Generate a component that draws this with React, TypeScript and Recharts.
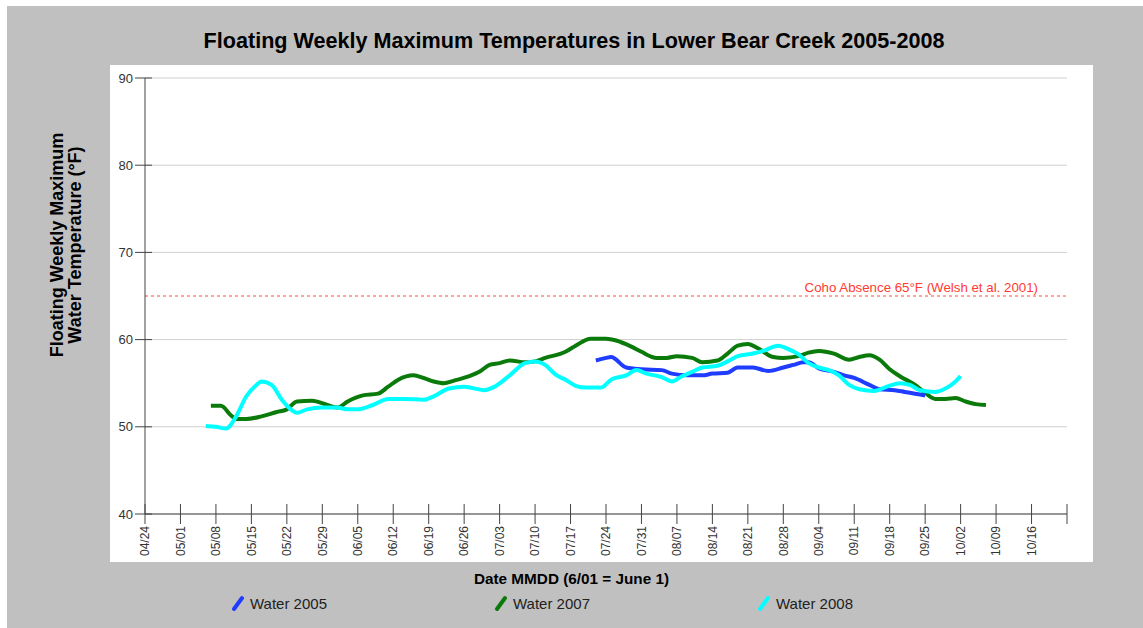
import React from "react";
import {
  CartesianGrid,
  Line,
  LineChart,
  ReferenceLine,
  XAxis,
  YAxis,
} from "recharts";

// x = days after 04/24
const tickLabels = [
  "04/24", "05/01", "05/08", "05/15", "05/22", "05/29", "06/05", "06/12",
  "06/19", "06/26", "07/03", "07/10", "07/17", "07/24", "07/31", "08/07",
  "08/14", "08/21", "08/28", "09/04", "09/11", "09/18", "09/25", "10/02",
  "10/09", "10/16", "",
];
const tickDays = tickLabels.map((_, i) => i * 7);
const yTicks = [40, 50, 60, 70, 80, 90];

const days2005 = [
  89, 91, 92, 95, 98, 102, 104, 107, 110, 112, 115, 117, 120, 123, 126, 128,
  130, 131, 133, 136, 138, 140, 143, 145, 148, 150, 152, 154,
];
const temps2005 = [
  57.6, 57.9, 58.0, 56.8, 56.6, 56.5, 56.1, 55.9, 55.9, 56.1, 56.2, 56.8, 56.8,
  56.4, 56.8, 57.1, 57.4, 57.4, 56.7, 56.3, 55.9, 55.6, 54.8, 54.3, 54.2, 54.0,
  53.8, 53.6,
];

const days2007 = [
  13, 15, 17, 18, 20, 23, 26, 28, 30, 33, 36, 38, 40, 43, 46, 48, 50, 53, 55,
  57, 59, 61, 64, 66, 68, 70, 72, 75, 77, 79, 83, 85, 88, 91, 93, 96, 98, 101,
  103, 105, 108, 110, 113, 115, 117, 119, 121, 124, 126, 129, 131, 133, 136,
  139, 141, 143, 145, 147, 149, 152, 154, 156, 158, 160, 162, 164, 166,
];
const temps2007 = [
  52.4, 52.4, 51.3, 50.9, 50.9, 51.2, 51.7, 52.0, 52.9, 53.0, 52.5, 52.2, 52.9,
  53.6, 53.8, 54.6, 55.4, 55.9, 55.6, 55.2, 55.0, 55.3, 55.8, 56.3, 57.1, 57.3,
  57.6, 57.4, 57.5, 57.9, 58.6, 59.3, 60.1, 60.1, 59.9, 59.2, 58.6, 57.9, 57.9,
  58.1, 57.9, 57.4, 57.6, 58.4, 59.3, 59.5, 59.0, 58.0, 57.9, 58.1, 58.5, 58.7,
  58.4, 57.7, 58.0, 58.2, 57.7, 56.6, 55.8, 54.8, 53.9, 53.2, 53.2, 53.3, 52.9,
  52.6, 52.5,
];

const days2008 = [
  12, 14, 16, 18, 20, 22, 23, 25, 27, 29, 30, 32, 35, 38, 40, 42, 45, 48, 51,
  55, 57, 60, 63, 67, 69, 72, 75, 77, 79, 81, 83, 85, 87, 90, 92, 95, 97, 99,
  102, 104, 106, 108, 110, 113, 115, 117, 120, 122, 125, 127, 129, 131, 133,
  135, 137, 139, 141, 144, 146, 149, 151, 153, 156, 158, 160, 161,
];
const temps2008 = [
  50.1, 50.0, 49.8, 51.2, 53.5, 54.8, 55.2, 54.8, 53.1, 51.9, 51.6, 52.0, 52.2,
  52.2, 52.0, 52.0, 52.5, 53.2, 53.2, 53.1, 53.5, 54.4, 54.6, 54.2, 54.6, 55.9,
  57.3, 57.5, 57.1, 56.0, 55.4, 54.7, 54.5, 54.5, 55.4, 55.9, 56.5, 56.1, 55.7,
  55.2, 55.8, 56.3, 56.8, 57.0, 57.5, 58.1, 58.4, 58.7, 59.3, 58.9, 58.3, 57.3,
  56.8, 56.5, 55.9, 54.8, 54.3, 54.1, 54.5, 55.0, 54.8, 54.2, 54.0, 54.4, 55.2,
  55.8,
];

const toPoints = (days: number[], temps: number[]) =>
  days.map((day, i) => ({ day, temp: temps[i] }));

const FONT = '"Liberation Sans", Arial, sans-serif';
const AXIS = "#444";

const XTick = (props: any) => {
  const { x, y, payload } = props;
  const label = tickLabels[tickDays.indexOf(payload.value)] ?? "";
  return (
    <g>
      <line x1={x} x2={x} y1={y - 10} y2={y + 10} stroke={AXIS} />
      <text
        transform={`translate(${x},${y + 12}) rotate(-90)`}
        textAnchor="end"
        dy="0.35em"
        fontSize={12}
        fontFamily={FONT}
        fill="#333"
      >
        {label}
      </text>
    </g>
  );
};

const YTick = (props: any) => {
  const { x, y, payload } = props;
  return (
    <g>
      <line x1={x - 10} x2={x + 7} y1={y} y2={y} stroke={AXIS} />
      <text
        x={x - 12}
        y={y}
        dy="0.35em"
        textAnchor="end"
        fontSize={13}
        fontFamily={FONT}
        fill="#333"
      >
        {payload.value}
      </text>
    </g>
  );
};

const CohoLabel = (props: any) => {
  const { viewBox } = props;
  return (
    <text
      x={viewBox.x + viewBox.width - 29}
      y={viewBox.y - 4}
      textAnchor="end"
      fontSize={13.3}
      fontFamily={FONT}
      fill="#ff3b2f"
    >
      Coho Absence 65°F (Welsh et al. 2001)
    </text>
  );
};

const legendItems = [
  { name: "Water 2005", color: "#1f3cff", left: 231 },
  { name: "Water 2007", color: "#0a7a0a", left: 494 },
  { name: "Water 2008", color: "#00ffff", left: 757 },
];

export default function App() {
  return (
    <div
      style={{
        position: "absolute",
        left: 0,
        top: 0,
        width: 1143,
        height: 628,
        background: "#fff",
        fontFamily: FONT,
      }}
    >
      <div
        style={{
          position: "absolute",
          left: 7,
          top: 6,
          width: 1136,
          height: 622,
          background: "#c0c0c0",
        }}
      />
      <div
        style={{
          position: "absolute",
          left: 110,
          top: 65,
          width: 983,
          height: 497,
          background: "#fff",
        }}
      />
      <div
        style={{
          position: "absolute",
          left: 0,
          width: 1148,
          top: 28,
          textAlign: "center",
          fontSize: 21.6,
          fontWeight: "bold",
          color: "#000",
        }}
      >
        Floating Weekly Maximum Temperatures in Lower Bear Creek 2005-2008
      </div>
      <div
        style={{
          position: "absolute",
          left: 69 - 150,
          top: 245 - 21,
          width: 300,
          height: 42,
          transform: "rotate(-90deg)",
          textAlign: "center",
          fontSize: 18,
          fontWeight: "bold",
          lineHeight: "18px",
          color: "#000",
        }}
      >
        Floating Weekly Maximum
        <br />
        Water Temperature (°F)
      </div>
      <div
        style={{
          position: "absolute",
          left: 0,
          width: 1143,
          top: 570,
          textAlign: "center",
          fontSize: 15.3,
          fontWeight: "bold",
          color: "#000",
        }}
      >
        Date MMDD (6/01 = June 1)
      </div>
      {legendItems.map((it) => (
        <div
          key={it.name}
          style={{
            position: "absolute",
            left: it.left,
            top: 594,
            height: 18,
            display: "flex",
            alignItems: "center",
            fontSize: 15,
            color: "#222",
          }}
        >
          <svg width={16} height={16} style={{ marginRight: 3 }}>
            <line
              x1={3}
              y1={14}
              x2={11}
              y2={3}
              stroke={it.color}
              strokeWidth={4}
              strokeLinecap="round"
            />
          </svg>
          {it.name}
        </div>
      ))}
      <div style={{ position: "absolute", left: 0, top: 0 }}>
        <LineChart
          width={1143}
          height={628}
          margin={{ top: 78, right: 76, bottom: 66, left: 105 }}
        >
          <CartesianGrid vertical={false} stroke="#cfcfcf" />
          <XAxis
            type="number"
            dataKey="day"
            domain={[0, 182]}
            ticks={tickDays}
            interval={0}
            height={48}
            tickSize={0}
            tickMargin={0}
            tickLine={false}
            axisLine={{ stroke: AXIS }}
            tick={<XTick />}
            allowDataOverflow
          />
          <YAxis
            type="number"
            domain={[40, 90]}
            ticks={yTicks}
            interval={0}
            width={40}
            tickSize={0}
            tickMargin={0}
            tickLine={false}
            axisLine={{ stroke: AXIS }}
            tick={<YTick />}
          />
          <ReferenceLine
            y={65}
            stroke="#ff4a3a"
            strokeDasharray="3 3"
            label={CohoLabel}
          />
          <Line
            data={toPoints(days2007, temps2007)}
            dataKey="temp"
            name="Water 2007"
            type="monotone"
            stroke="#0a7a0a"
            strokeWidth={4}
            dot={false}
            isAnimationActive={false}
          />
          <Line
            data={toPoints(days2005, temps2005)}
            dataKey="temp"
            name="Water 2005"
            type="monotone"
            stroke="#1f3cff"
            strokeWidth={4}
            dot={false}
            isAnimationActive={false}
          />
          <Line
            data={toPoints(days2008, temps2008)}
            dataKey="temp"
            name="Water 2008"
            type="monotone"
            stroke="#00ffff"
            strokeWidth={4}
            dot={false}
            isAnimationActive={false}
          />
        </LineChart>
      </div>
    </div>
  );
}
